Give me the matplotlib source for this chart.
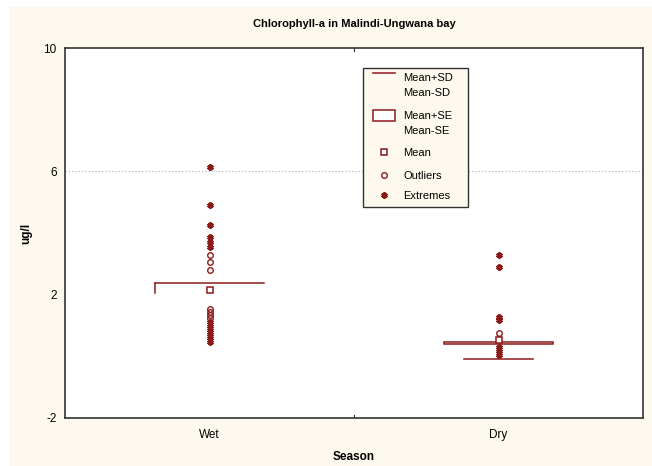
import matplotlib
matplotlib.use("Agg")
import matplotlib.pyplot as plt
from matplotlib.patches import Rectangle
from matplotlib.lines import Line2D

plt.rcParams['font.family'] = ['Liberation Sans', 'DejaVu Sans']

categories = ["Wet", "Dry"]
title = "Chlorophyll-a in Malindi-Ungwana bay"
y_ticks = [-2, 2, 6, 10]

# Statistics per season
means = [2.15, 0.53]
se_upper = [2.38, 0.475]
se_lower = [2.05, 0.39]
sd_lower = [None, -0.10]

# Outliers and extremes
wet_outliers = [3.29, 3.06, 2.80, 1.53, 1.44, 1.34, 1.24]
wet_extremes = [6.15, 4.91, 4.26, 3.87, 3.71, 3.55, 1.11, 0.98, 0.85, 0.72, 0.59, 0.47]
dry_outliers = [0.76]
dry_extremes = [3.29, 2.91, 1.29, 1.18, 0.30, 0.17, 0.04]

red = "#8b1a1a"
cream = "#fdf9ee"

W, H = 652, 466
fig = plt.figure(figsize=(W / 100, H / 100), dpi=100, facecolor="white")
fig.patches.append(Rectangle((9 / W, 0), 1 - 9 / W, 1 - 7 / H, transform=fig.transFigure,
                             facecolor=cream, edgecolor="none", zorder=-10))

ax_l, ax_r, ax_t, ax_b = 65, 643, 48, 418
ax = fig.add_axes([ax_l / W, 1 - ax_b / H, (ax_r - ax_l) / W, (ax_b - ax_t) / H])
ax.set_facecolor("white")
ax.set_xlim(-0.5, 1.5)
ax.set_ylim(-2, 10)
ax.set_yticks(y_ticks)
ax.set_yticklabels([str(v) for v in y_ticks], fontsize=8.5)
ax.set_xticks([0, 1])
ax.set_xticklabels(categories, fontsize=8.5)
ax.tick_params(axis='y', length=0, pad=6)
ax.tick_params(axis='x', length=0, pad=8)
for s in ax.spines.values():
    s.set_color("#333333")
    s.set_linewidth(1.2)
# small middle ticks
ax.plot([0.5, 0.5], [10, 9.9], color="#333333", lw=0.8)
ax.plot([0.5, 0.5], [-2, -1.9], color="#333333", lw=0.8)

ax.axhline(6, color="#aaaaaa", lw=0.8, ls=(0, (1, 2)), zorder=0)

hw = 0.19
# Wet box (top edge and left side visible)
ax.plot([0 - hw, 0 + hw], [se_upper[0], se_upper[0]], color=red, lw=1.1)
ax.plot([0 - hw, 0 - hw], [se_upper[0], se_lower[0]], color=red, lw=1.1)
# Dry box
ax.add_patch(Rectangle((1 - hw, se_lower[1]), 2 * hw, se_upper[1] - se_lower[1],
                       facecolor="white", edgecolor=red, lw=1.1, zorder=2))
ax.plot([1 - 0.12, 1 + 0.12], [sd_lower[1], sd_lower[1]], color=red, lw=1.1)

ext_m = dict(marker=(6, 2, 0), ls="none", color=red, ms=4.5, mew=1.6, zorder=3)
out_m = dict(marker="o", ls="none", mfc="none", mec=red, ms=4, mew=1.0, zorder=3)
mean_m = dict(marker="s", ls="none", mfc="white", mec=red, ms=4, mew=1.1, zorder=4)

ax.plot([0] * len(wet_extremes), wet_extremes, **ext_m)
ax.plot([0] * len(wet_outliers), wet_outliers, **out_m)
ax.plot([1] * len(dry_extremes), dry_extremes, **ext_m)
ax.plot([1] * len(dry_outliers), dry_outliers, **out_m)
ax.plot([0, 1], means, **mean_m)

ax.set_title(title, fontsize=8, fontweight="bold", pad=15)
ax.set_ylabel("ug/l", fontsize=8.5, fontweight="bold", labelpad=8)
ax.set_xlabel("Season", fontsize=8.5, fontweight="bold", labelpad=7)

# Manual legend in axes pixel geometry
def fx(px):
    return (px - ax_l) / (ax_r - ax_l)

def fy(py):
    return (ax_b - py) / (ax_b - ax_t)

tr = ax.transAxes
ax.add_patch(Rectangle((fx(363), fy(207)), fx(468) - fx(363), fy(68) - fy(207), transform=tr,
                       facecolor=cream, edgecolor="#333333", lw=1.0, zorder=5))
hx0, hx1, tx = fx(373), fx(395), fx(403)
ax.add_line(Line2D([hx0, hx1], [fy(73), fy(73)], transform=tr, color=red, lw=1.1, zorder=6))
ax.add_patch(Rectangle((hx0, fy(121)), hx1 - hx0, fy(110) - fy(121), transform=tr,
                       facecolor="white", edgecolor=red, lw=1.1, zorder=6))
mx = (hx0 + hx1) / 2
for y, st in [(152, mean_m), (175, out_m), (195, ext_m)]:
    ln = Line2D([mx], [fy(y)], transform=tr, **st)
    ln.set_zorder(6)
    ax.add_line(ln)
for txt, py in [("Mean+SD", 78), ("Mean-SD", 93), ("Mean+SE", 116), ("Mean-SE", 131),
                ("Mean", 153), ("Outliers", 176), ("Extremes", 196)]:
    ax.text(tx, fy(py), txt, transform=tr, fontsize=8, va="center", ha="left", zorder=7)

fig.savefig("out.png", dpi=100, facecolor=fig.get_facecolor())
